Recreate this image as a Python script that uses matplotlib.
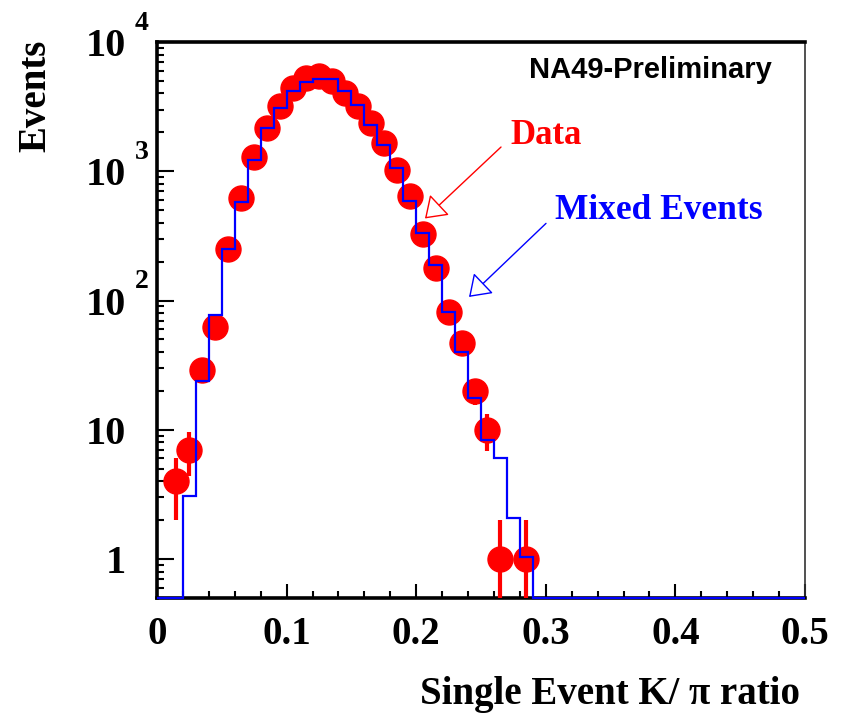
import numpy as np
import matplotlib.pyplot as plt
from matplotlib.ticker import MultipleLocator, LogLocator, FixedLocator, NullFormatter
import matplotlib.transforms as mtransforms

# --- data ------------------------------------------------------------------
bin_edges = np.round(np.arange(0.0, 0.501, 0.01), 3)

# mixed events histogram, one value per 0.01 bin (0 .. 0.5)
mixed = [0, 0, 3.1, 24, 77, 252, 575, 1225, 2160, 3090,
         4215, 4900, 5130, 5130, 4215, 3280, 2290, 1585, 1057, 588,
         336, 189, 82, 40, 17.5, 8.4, 6.1, 2.07, 1.04, 0,
         0, 0, 0, 0, 0, 0, 0, 0, 0, 0,
         0, 0, 0, 0, 0, 0, 0, 0, 0, 0]

# data points (bin centres, counts)
data_x = [0.015, 0.025, 0.035, 0.045, 0.055, 0.065, 0.075, 0.085, 0.095,
          0.105, 0.115, 0.125, 0.135, 0.145, 0.155, 0.165, 0.175, 0.185,
          0.195, 0.205, 0.215, 0.225, 0.235, 0.245, 0.255, 0.265, 0.285]
data_y = [4, 7, 29, 62, 250, 620, 1300, 2150, 3200,
          4400, 5300, 5450, 5000, 4050, 3200, 2360, 1650, 1025,
          640, 330, 178, 81, 47, 20, 10, 1, 1]

ytick_vals = [1, 10, 100, 1000, 10000]
ytick_base = ['1', '10', '10', '10', '10']
ytick_exp = ['', '', '2', '3', '4']
xtick_vals = [0, 0.1, 0.2, 0.3, 0.4, 0.5]
xtick_labels = ['0', '0.1', '0.2', '0.3', '0.4', '0.5']

YMIN, YMAX = 0.5, 1e4
SERIF = 'Liberation Serif'

fig = plt.figure(figsize=(8.45, 7.16), dpi=100)
ax = fig.add_axes([157 / 845, 1 - 598 / 716, 648 / 845, 556 / 716])
ax.set_yscale('log')
ax.set_xlim(0, 0.5)
ax.set_ylim(YMIN, YMAX)

# data points with poisson errors
dy = np.sqrt(data_y)
dy_lo = np.minimum(dy, np.array(data_y) - 1e-3)
ax.errorbar(data_x, data_y, yerr=[dy_lo, dy], fmt='o', color='red',
            ms=18, elinewidth=3, capsize=0, zorder=3, clip_on=True)

# mixed events histogram, empty bins drawn on the floor
mixed_draw = np.where(np.array(mixed) > 0, mixed, YMIN)
ax.stairs(mixed_draw, bin_edges, baseline=None, color='blue', lw=1.6,
          zorder=4, clip_on=False)

# arrows and labels
head = '-|>,head_length=0.65,head_width=0.45'
ax.annotate('', xy=(0.2052, 417), xytext=(0.267, 1593),
            arrowprops=dict(arrowstyle=head, mutation_scale=20,
                            ec='red', fc='white', lw=1))
ax.annotate('', xy=(0.2392, 103), xytext=(0.3017, 409),
            arrowprops=dict(arrowstyle=head, mutation_scale=20,
                            ec='blue', fc='white', lw=1))
ax.text(0.2724, 1906, 'Data', color='red', fontsize=25, fontweight='bold',
        family=SERIF, va='center', ha='left')
ax.text(0.307, 498, 'Mixed Events', color='blue', fontsize=25.5,
        fontweight='bold', family=SERIF, va='center', ha='left')
ax.text(0.949, 0.95, 'NA49-Preliminary', transform=ax.transAxes,
        fontsize=21, fontweight='bold', family='Liberation Sans',
        ha='right', va='center')

# axes styling
for side in ['left', 'top', 'bottom']:
    ax.spines[side].set_linewidth(2.6)
ax.spines['right'].set_linewidth(1.2)
ax.spines['right'].set_color('#333333')

ax.xaxis.set_major_locator(FixedLocator(xtick_vals))
ax.xaxis.set_minor_locator(MultipleLocator(0.02))
ax.set_xticklabels(xtick_labels, fontsize=28, fontweight='bold', family=SERIF)
ax.tick_params(axis='x', which='major', direction='in', length=10, width=1.5,
               pad=13, top=False)
ax.tick_params(axis='x', which='minor', direction='in', length=5, width=1.5,
               top=False)

ax.yaxis.set_major_locator(FixedLocator(ytick_vals))
ax.yaxis.set_minor_locator(LogLocator(base=10, subs=np.arange(2, 10)))
ax.yaxis.set_minor_formatter(NullFormatter())
ax.set_yticklabels(ytick_base, fontsize=29, fontweight='bold', family=SERIF)
ax.tick_params(axis='y', which='major', direction='in', length=12, width=1.5,
               pad=22, right=False)
ax.tick_params(axis='y', which='minor', direction='in', length=5, width=1.5,
               right=False)

# exponents of the y labels
trans = mtransforms.blended_transform_factory(ax.transAxes, ax.transData)
for v, e in zip(ytick_vals, ytick_exp):
    if e:
        ax.text(-0.034, v * 1.12, e, transform=trans, fontsize=20,
                fontweight='bold', family=SERIF, ha='left', va='bottom',
                clip_on=False)

ax.set_xlabel('Single Event K/ \u03c0 ratio', fontsize=28, fontweight='bold',
              family=SERIF, loc='right')
ax.xaxis.set_label_coords(0.992, -0.14)
ax.set_ylabel('Events', fontsize=28, fontweight='bold', family=SERIF,
              loc='top')
ax.yaxis.set_label_coords(-0.158, 1.005)

fig.savefig('out.png', dpi=100)
